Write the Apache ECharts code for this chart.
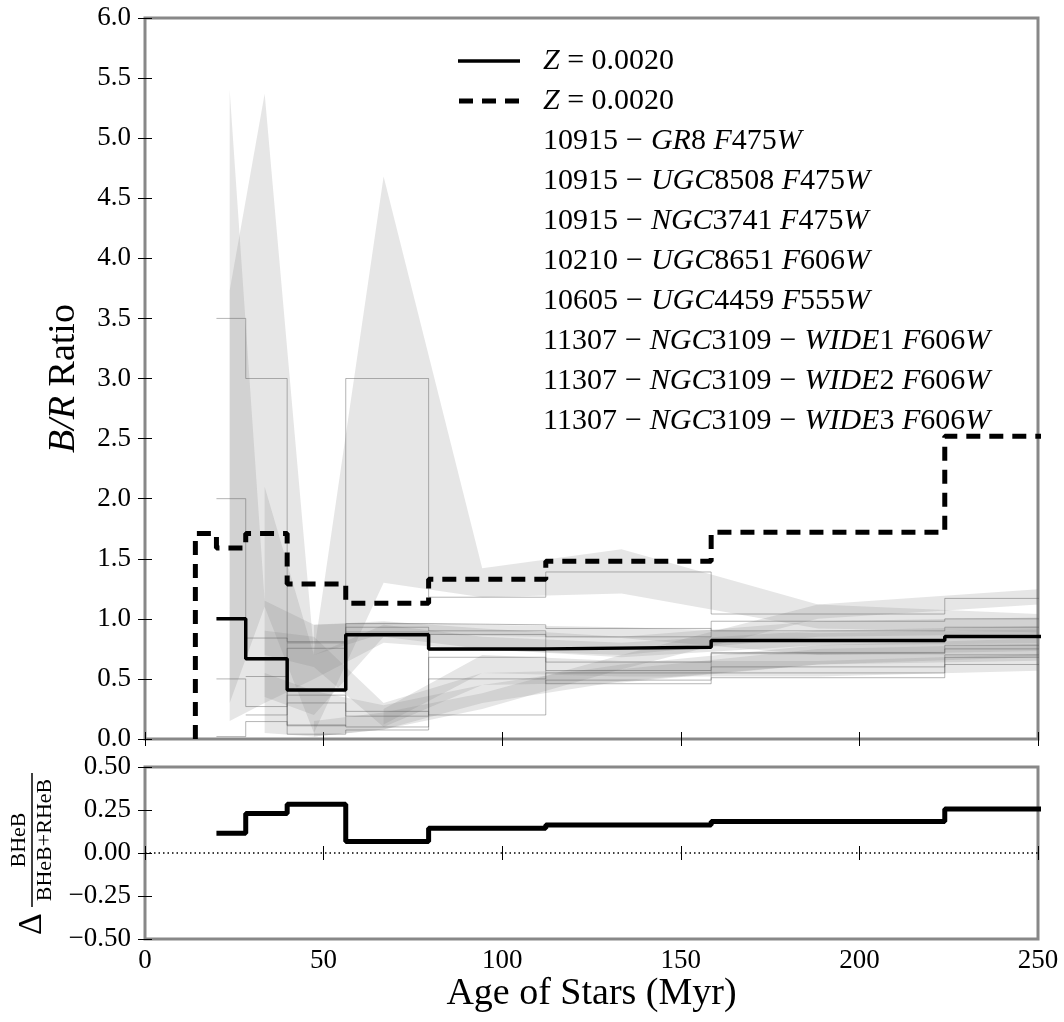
<!DOCTYPE html>
<html>
<head>
<meta charset="utf-8">
<script src="https://cdn.jsdelivr.net/npm/echarts@6/dist/echarts.min.js"></script>
<style>
  html, body { margin: 0; padding: 0; background: #fff; }
  #chart { width: 1064px; height: 1022px; }
</style>
</head>
<body>
<div id="chart"></div>
<script>
// Age bin edges (Myr), log-spaced in 0.15 dex steps
const binEdges = [14.1, 20.0, 28.2, 39.8, 56.2, 79.4, 112.2, 158.5, 223.9, 316.2];

// Model B/R ratio per bin (index i covers binEdges[i]..binEdges[i+1])
const ratioSolid  = [null, 1.00, 0.667, 0.408, 0.867, 0.75, 0.764, 0.82, 0.853];
const ratioDashed = [1.71, 1.59, 1.71, 1.29, 1.13, 1.33, 1.48, 1.72, 2.52];

// Difference in BHeB/(BHeB+RHeB) per bin
const deltaFrac = [null, 0.115, 0.23, 0.283, 0.067, 0.144, 0.163, 0.183, 0.256];

// Observed galaxies
const galaxyNames = [
  '10915 − GR8 F475W',
  '10915 − UGC8508 F475W',
  '10915 − NGC3741 F475W',
  '10210 − UGC8651 F606W',
  '10605 − UGC4459 F555W',
  '11307 − NGC3109 − WIDE1 F606W',
  '11307 − NGC3109 − WIDE2 F606W',
  '11307 − NGC3109 − WIDE3 F606W'
];

// Bin-centre ages where the observed ratio ranges are sampled
const bandAges = [23.7, 33.5, 47.3, 66.8, 94.4, 133.4, 188.4, 266.1];

// Lower / upper envelopes of the observed B/R ratio, one row per galaxy
const bandLow = [
  [0.30, 1.10, 0.05, 1.30, 1.18, 1.21, 0.92, 0.88],
  [0.15, 0.30, 0.50, 0.80, 0.74, 0.70, 0.85, 0.88],
  [null, 0.05, 0.02, 0.08, 0.30, 0.48, 0.62, 0.70],
  [null, null, 0.02, 0.08, 0.25, 0.58, 1.00, 1.15],
  [null, 0.70, 0.60, 0.10, 0.45, 0.47, 0.62, 0.66],
  [null, 0.35, 0.20, 0.85, 0.75, 0.68, 0.78, 0.80],
  [null, null, 0.70, 0.88, 0.86, 0.84, 0.70, 0.74],
  [null, null, null, 0.12, 0.55, 0.52, 0.52, 0.58]
];
const bandHigh = [
  [3.73, 5.37, 0.72, 4.68, 1.42, 1.58, 1.12, 1.02],
  [5.40, 1.15, 0.95, 0.98, 0.92, 0.85, 0.98, 1.02],
  [null, 0.55, 0.40, 0.28, 0.45, 0.62, 0.78, 0.85],
  [null, null, 0.15, 0.22, 0.38, 0.70, 1.12, 1.28],
  [null, 0.90, 0.85, 0.30, 0.55, 0.58, 0.75, 0.80],
  [null, 2.10, 0.70, 0.95, 0.85, 0.80, 0.90, 0.95],
  [null, null, 0.95, 0.97, 0.95, 0.93, 0.88, 0.92],
  [null, null, null, 0.25, 0.70, 0.65, 0.65, 0.72]
];

// Binned ratio limits drawn as thin step outlines (per bin, aligned with binEdges)
const binnedSteps = [
  [null, 3.50, 3.00, 0.11, 3.00, 1.18, 1.39, 1.04, 1.17],
  [null, 2.00, 0.84, 0.81, 0.96, 0.95, 0.92, 0.90, 0.93],
  [null, 0.50, 0.27, 0.365, 0.23, 0.20, 0.49, 0.51, 0.68],
  [null, 0.02, 0.145, 0.117, 0.10, 0.68, 0.57, 0.71, 0.75],
  [null, null, 0.66, 0.755, 0.89, 0.87, 0.64, 0.72, 0.78],
  [null, null, 0.52, 0.04, 0.075, 0.74, 0.46, 0.55, 0.62],
  [null, null, null, 0.80, 0.93, 0.90, 0.85, 0.98, 1.00],
  [null, null, 0.20, 0.30, 0.19, 0.50, 0.55, 0.60, 0.70]
];

// Tick values
const ratioTicks = { min: 0, max: 6, interval: 0.5 };
const deltaTicks = { min: -0.5, max: 0.5, interval: 0.25 };
const ageTicks = { min: 0, max: 250, interval: 50 };

const FONT = 'Liberation Serif';

// Legend line samples: solid bar and three dashes
const ICON_SOLID = 'path://M0,0H62V3.5H0Z';
const ICON_DASHED = 'path://M0,0H14V5H0Z M23,0H37V5H23Z M46,0H60V5H46Z';

// Turn per-bin values into points for a post-step line
function stepPoints(vals, startFromZero) {
  const pts = [];
  let last = null;
  for (let i = 0; i < vals.length; i++) {
    if (vals[i] == null) continue;
    if (last === null && startFromZero) pts.push([binEdges[i], 0]);
    pts.push([binEdges[i], vals[i]]);
    last = i;
  }
  if (last !== null) pts.push([binEdges[last + 1], vals[last]]);
  return pts;
}

// Label text: letters in italic (math style), minus signs spaced, digits upright
function richLabel(s) {
  return s.split(/([A-Za-z]+| − )/).filter(p => p.length).map(p => {
    if (p === ' − ') return '{m|−}';
    return /^[A-Za-z]+$/.test(p) ? '{i|' + p + '}' : '{n|' + p + '}';
  }).join('');
}

const bandSeries = galaxyNames.map((name, k) => ({
  type: 'custom',
  name: name,
  xAxisIndex: 0,
  yAxisIndex: 0,
  clip: true,
  silent: true,
  z: 1,
  data: [[0]],
  renderItem: function (params, api) {
    const upper = [], lower = [];
    for (let j = 0; j < bandAges.length; j++) {
      if (bandHigh[k][j] == null) continue;
      upper.push(api.coord([bandAges[j], bandHigh[k][j]]));
      lower.push(api.coord([bandAges[j], bandLow[k][j]]));
    }
    return {
      type: 'polygon',
      shape: { points: upper.concat(lower.reverse()) },
      style: { fill: 'rgba(128,128,128,0.2)', stroke: null }
    };
  }
}));

const stepSeries = binnedSteps.map(vals => ({
  type: 'line',
  xAxisIndex: 0,
  yAxisIndex: 0,
  step: 'end',
  showSymbol: false,
  symbol: 'none',
  silent: true,
  z: 2,
  lineStyle: { color: 'rgba(90,90,90,0.45)', width: 1 },
  data: stepPoints(vals, false)
}));

const tickStyle = { show: true, inside: true, length: 7, lineStyle: { color: '#000', width: 1 } };
const hidden = { show: false };

function xAx(grid, pos, labels) {
  return {
    type: 'value', gridIndex: grid, position: pos,
    min: ageTicks.min, max: ageTicks.max, interval: ageTicks.interval,
    axisLine: hidden, splitLine: hidden, axisTick: tickStyle,
    axisLabel: labels ? { show: true, color: '#000', fontFamily: FONT, fontSize: 27, margin: 8 } : hidden
  };
}

const chart = echarts.init(document.getElementById('chart'), null, { renderer: 'canvas' });

chart.setOption({
  animation: false,
  backgroundColor: '#fff',
  grid: [
    { left: 145, top: 18, width: 893, height: 721, show: true, borderColor: '#888', borderWidth: 3, backgroundColor: 'transparent' },
    { left: 145, top: 767, width: 893, height: 172, show: true, borderColor: '#888', borderWidth: 3, backgroundColor: 'transparent' }
  ],
  xAxis: [
    xAx(0, 'bottom', false),
    xAx(0, 'top', false),
    Object.assign(xAx(1, 'bottom', true), {
      name: 'Age of Stars (Myr)', nameLocation: 'middle', nameGap: 36,
      nameTextStyle: { color: '#000', fontFamily: FONT, fontSize: 38 }
    }),
    xAx(1, 'top', false)
  ],
  yAxis: [
    {
      type: 'value', gridIndex: 0, position: 'left',
      min: ratioTicks.min, max: ratioTicks.max, interval: ratioTicks.interval,
      axisLine: hidden, splitLine: hidden, axisTick: tickStyle,
      axisLabel: { color: '#000', fontFamily: FONT, fontSize: 27, margin: 14, formatter: v => v.toFixed(1) },
      name: '{i|B/R}{n| Ratio}', nameLocation: 'middle', nameGap: 62, nameRotate: 90,
      nameTextStyle: {
        color: '#000',
        rich: {
          i: { fontFamily: FONT, fontSize: 38, fontStyle: 'italic', color: '#000' },
          n: { fontFamily: FONT, fontSize: 38, color: '#000' }
        }
      }
    },
    {
      type: 'value', gridIndex: 0, position: 'right',
      min: ratioTicks.min, max: ratioTicks.max, interval: ratioTicks.interval,
      axisLine: hidden, splitLine: hidden, axisTick: tickStyle, axisLabel: hidden
    },
    {
      type: 'value', gridIndex: 1, position: 'left',
      min: deltaTicks.min, max: deltaTicks.max, interval: deltaTicks.interval,
      axisLine: hidden, splitLine: hidden, axisTick: tickStyle,
      axisLabel: {
        color: '#000', fontFamily: FONT, fontSize: 27, margin: 14,
        formatter: v => (v < 0 ? '\u2212' : '') + Math.abs(v).toFixed(2)
      }
    },
    {
      type: 'value', gridIndex: 1, position: 'right',
      min: deltaTicks.min, max: deltaTicks.max, interval: deltaTicks.interval,
      axisLine: hidden, splitLine: hidden, axisTick: tickStyle, axisLabel: hidden
    }
  ],
  legend: {
    orient: 'vertical',
    left: 453,
    top: 41,
    itemWidth: 62,
    itemHeight: 5,
    itemGap: 10,
    selectedMode: false,
    data: [
      { name: 'Z = 0.0020', icon: ICON_SOLID },
      { name: 'Z = 0.0020 ', icon: ICON_DASHED }
    ].concat(galaxyNames.map(n => ({ name: n, icon: 'none' }))),
    formatter: name => richLabel(name.trim()),
    textStyle: {
      padding: [0, 0, 0, 18],
      lineHeight: 30,
      rich: {
        n: { fontFamily: FONT, fontSize: 30, color: '#000', lineHeight: 30 },
        i: { fontFamily: FONT, fontSize: 30, fontStyle: 'italic', color: '#000', lineHeight: 30 },
        m: { fontFamily: FONT, fontSize: 30, color: '#000', lineHeight: 30, padding: [0, 8, 0, 8] }
      }
    }
  },
  graphic: [
    {
      type: 'group',
      x: 32, y: 840,
      rotation: Math.PI / 2,
      children: [
        { type: 'text', x: -84, y: 0, style: { text: 'Δ', font: '34px "Liberation Serif"', fill: '#000', align: 'center', verticalAlign: 'middle' } },
        { type: 'line', shape: { x1: -67, y1: 0, x2: 67, y2: 0 }, style: { stroke: '#000', lineWidth: 1.5 } },
        { type: 'text', x: 0, y: -2, style: { text: 'BHeB', font: '22px "Liberation Serif"', fill: '#000', align: 'center', verticalAlign: 'bottom' } },
        { type: 'text', x: 0, y: 2, style: { text: 'BHeB+RHeB', font: '22px "Liberation Serif"', fill: '#000', align: 'center', verticalAlign: 'top' } }
      ]
    }
  ],
  series: bandSeries.concat(stepSeries).concat([
    {
      type: 'line',
      name: 'Z = 0.0020',
      xAxisIndex: 0, yAxisIndex: 0,
      step: 'end',
      showSymbol: false, symbol: 'none',
      z: 5,
      itemStyle: { color: '#000' },
      lineStyle: { color: '#000', width: 3.5 },
      data: stepPoints(ratioSolid, false)
    },
    {
      type: 'line',
      name: 'Z = 0.0020 ',
      xAxisIndex: 0, yAxisIndex: 0,
      step: 'end',
      showSymbol: false, symbol: 'none',
      z: 5,
      itemStyle: { color: '#000' },
      lineStyle: { color: '#000', width: 5, type: [14, 9], cap: 'butt' },
      data: stepPoints(ratioDashed, true)
    },
    {
      type: 'line',
      xAxisIndex: 2, yAxisIndex: 2,
      step: 'end',
      showSymbol: false, symbol: 'none',
      z: 5,
      lineStyle: { color: '#000', width: 5 },
      data: stepPoints(deltaFrac, false),
      markLine: {
        silent: true,
        symbol: 'none',
        label: { show: false },
        lineStyle: { color: '#000', width: 1.5, type: [1.5, 3] },
        data: [{ yAxis: 0 }]
      }
    }
  ])
});
</script>
</body>
</html>
